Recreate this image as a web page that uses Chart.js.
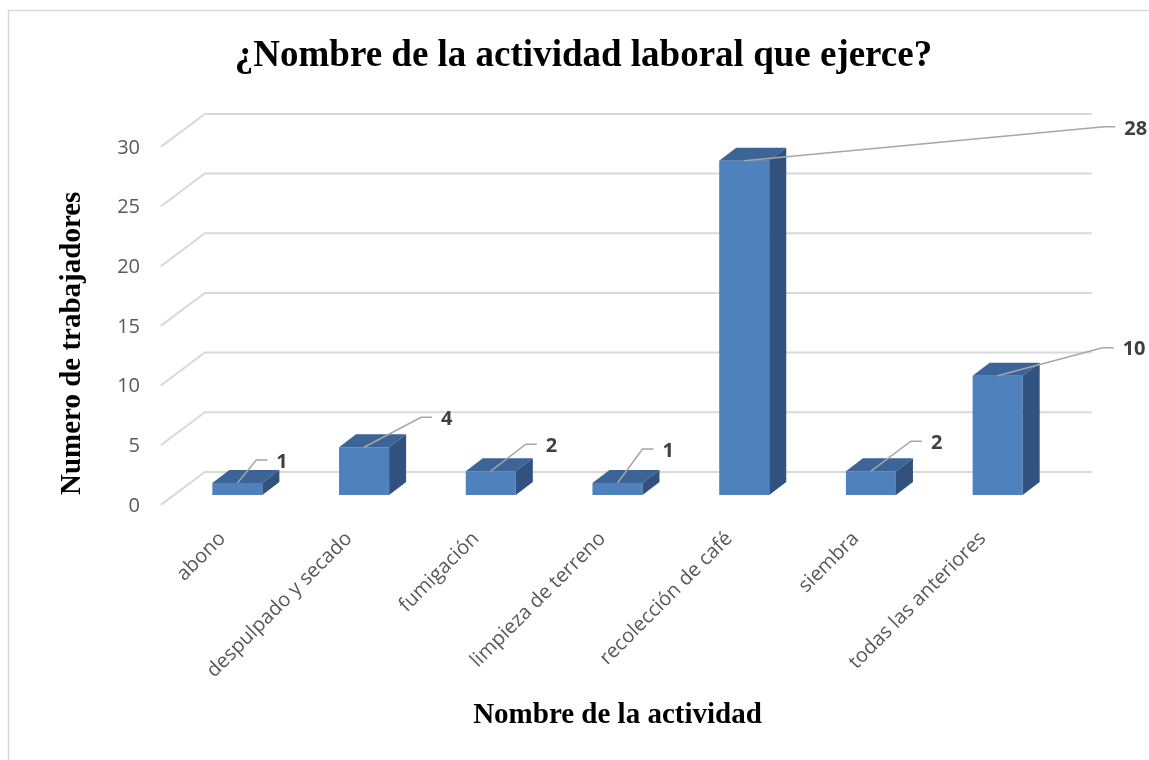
<!DOCTYPE html>
<html><head><meta charset="utf-8">
<script src="https://cdn.jsdelivr.net/npm/chart.js@4.4.1/dist/chart.umd.min.js"></script>
<style>html,body{margin:0;padding:0;background:#fff}canvas{display:block}</style>
</head><body>
<canvas id="c" width="1149" height="760"></canvas>
<script>
// ---- data ----
const categories = ['abono', 'despulpado y secado', 'fumigación', 'limpieza de terreno', 'recolección de café', 'siembra', 'todas las anteriores'];
const trabajadores = [1, 4, 2, 1, 28, 2, 10];
const yTicks = [0, 5, 10, 15, 20, 25, 30];
const chartTitle = '¿Nombre de la actividad laboral que ejerce?';
const xTitle = 'Nombre de la actividad';
const yTitle = 'Numero de trabajadores';

// ---- 3D look (styles / geometry, not data) ----
const WALL = { dx: 44, dy: -33, frac: 0.3 };
const BAR_DEPTH = { dx: 17, dy: -13 };
const leaderOffsets = [[19, -23], [57, -30], [35, -27], [25, -34], [360, -34], [40, -30], [105, -28]];

const fake3d = {
  id: 'fake3d',
  beforeDraw(chart) {
    const ctx = chart.ctx;
    ctx.save();
    ctx.fillStyle = '#fff';
    ctx.fillRect(0, 0, chart.width, chart.height);
    ctx.strokeStyle = '#d9d9d9';
    ctx.lineWidth = 1.5;
    ctx.strokeRect(8.5, 10.5, chart.width + 20, chart.height + 20);
    ctx.restore();
  },
  beforeDatasetsDraw(chart) {
    const ctx = chart.ctx, a = chart.chartArea, ys = chart.scales.y;
    const fx = -WALL.dx * WALL.frac, fy = -WALL.dy * WALL.frac;
    const bx = WALL.dx * (1 - WALL.frac), by = WALL.dy * (1 - WALL.frac);
    ctx.save();
    ctx.strokeStyle = '#d9d9d9';
    ctx.lineWidth = 2;
    ctx.beginPath();
    ys.ticks.forEach(t => {
      const p = ys.getPixelForValue(t.value);
      ctx.moveTo(a.left + fx, p + fy);
      ctx.lineTo(a.left + bx, p + by);
      ctx.lineTo(a.right + bx, p + by);
    });
    ctx.stroke();
    ctx.restore();
  },
  afterDatasetsDraw(chart) {
    const ctx = chart.ctx;
    const meta = chart.getDatasetMeta(0);
    ctx.save();
    meta.data.forEach((bar, i) => {
      const p = bar.getProps(['x', 'y', 'base', 'width'], true);
      const l = p.x - p.width / 2, r = p.x + p.width / 2;
      // top face
      ctx.fillStyle = '#3c6496';
      ctx.beginPath();
      ctx.moveTo(l, p.y); ctx.lineTo(r, p.y);
      ctx.lineTo(r + BAR_DEPTH.dx, p.y + BAR_DEPTH.dy);
      ctx.lineTo(l + BAR_DEPTH.dx, p.y + BAR_DEPTH.dy);
      ctx.closePath(); ctx.fill();
      // side face
      ctx.fillStyle = '#31527e';
      ctx.beginPath();
      ctx.moveTo(r, p.y); ctx.lineTo(r + BAR_DEPTH.dx, p.y + BAR_DEPTH.dy);
      ctx.lineTo(r + BAR_DEPTH.dx, p.base + BAR_DEPTH.dy);
      ctx.lineTo(r, p.base);
      ctx.closePath(); ctx.fill();
    });
    // data labels with leader lines
    meta.data.forEach((bar, i) => {
      const p = bar.getProps(['x', 'y'], true);
      const [ex, ey] = leaderOffsets[i];
      const elbowX = p.x + ex, elbowY = p.y + ey;
      ctx.strokeStyle = '#a6a6a6';
      ctx.lineWidth = 1.5;
      ctx.beginPath();
      ctx.moveTo(p.x, p.y);
      ctx.lineTo(elbowX, elbowY);
      ctx.lineTo(elbowX + 11, elbowY);
      ctx.stroke();
      ctx.fillStyle = '#404040';
      ctx.font = 'bold 20px "Open Sans"';
      ctx.textAlign = 'left';
      ctx.textBaseline = 'middle';
      ctx.fillText(String(trabajadores[i]), elbowX + 20, elbowY + 2);
    });
    ctx.restore();
  }
};

new Chart(document.getElementById('c'), {
  type: 'bar',
  data: {
    labels: categories,
    datasets: [{
      data: trabajadores,
      backgroundColor: '#4f81bd',
      borderWidth: 0,
      categoryPercentage: 1,
      barPercentage: 0.395
    }]
  },
  options: {
    responsive: false,
    animation: false,
    devicePixelRatio: 1,
    layout: { padding: { left: 18, top: 10, right: 0, bottom: 0 } },
    plugins: {
      legend: { display: false },
      tooltip: { enabled: false },
      title: {
        display: true, text: chartTitle, color: '#000',
        font: { family: 'Liberation Serif', size: 37, weight: 'bold' },
        padding: { top: 24, bottom: 58.6 }
      }
    },
    scales: {
      x: {
        grid: { display: false, drawTicks: false },
        border: { display: false },
        ticks: {
          autoSkip: false, maxRotation: 45, minRotation: 45, padding: 32, labelOffset: -15,
          color: '#595959', font: { family: 'Open Sans', size: 20 }
        },
        title: {
          display: true, text: xTitle, color: '#000',
          font: { family: 'Liberation Serif', size: 29, weight: 'bold' },
          padding: { top: 0, bottom: 27 }
        },
        afterFit(s) { s.height = 265; }
      },
      y: {
        min: 0, max: 30,
        grid: { display: false, drawTicks: false },
        border: { display: false },
        afterBuildTicks(s) { s.ticks = yTicks.map(v => ({ value: v })); },
        ticks: {
          padding: 34, labelOffset: 11,
          color: '#595959', font: { family: 'Open Sans', size: 20 }
        },
        title: {
          display: true, text: yTitle, color: '#000', align: 'start',
          font: { family: 'Liberation Serif', size: 29, weight: 'bold' },
          padding: { top: 37, bottom: 0 }
        },
        afterFit(s) { s.width = 156; }
      },
      yRight: {
        position: 'right',
        display: true,
        grid: { display: false, drawTicks: false },
        border: { display: false },
        ticks: { display: false },
        afterFit(s) { s.width = 88; }
      }
    }
  },
  plugins: [fake3d]
});
</script>
</body></html>
